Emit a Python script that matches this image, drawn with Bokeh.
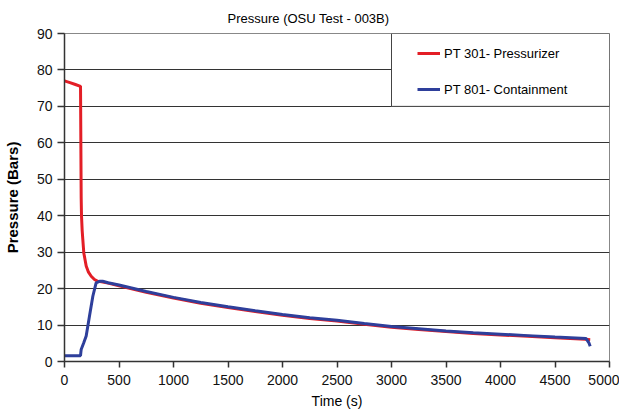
from bokeh.plotting import figure
from bokeh.models import Legend, LegendItem, BoxAnnotation, SingleIntervalTicker, Title
from bokeh.embed import file_html
from bokeh.resources import INLINE

# ---- data ----
time_pt301 = [0, 50, 100, 147, 150, 153, 156, 162, 168, 177, 199, 220, 245, 275, 306, 340,
              400, 500, 750, 1000, 1250, 1500, 1750, 2000, 2250, 2500, 2750, 3000, 3250,
              3500, 3750, 4000, 4250, 4500, 4780, 4823]
pres_pt301 = [77.0, 76.5, 76.0, 75.5, 60.0, 45.0, 40.0, 36.0, 33.5, 29.8, 26.2, 24.5, 23.4, 22.5,
              22.0, 21.9, 21.5, 20.8, 19.0, 17.4, 16.0, 14.8, 13.7, 12.7, 11.8, 11.1, 10.2, 9.4,
              8.8, 8.2, 7.7, 7.3, 6.9, 6.5, 6.1, 6.0]

time_pt801 = [0, 147, 150, 153, 175, 199, 229, 260, 290, 321, 350, 400, 500, 750, 1000, 1250,
              1500, 1750, 2000, 2250, 2500, 2750, 3000, 3250, 3500, 3750, 4000, 4250, 4500,
              4785, 4810, 4823]
pres_pt801 = [1.6, 1.6, 2.5, 3.3, 5.0, 7.0, 12.4, 17.9, 21.6, 22.0, 22.0, 21.6, 21.0, 19.2, 17.6,
              16.2, 15.0, 13.9, 12.9, 12.0, 11.3, 10.4, 9.6, 9.0, 8.4, 7.9, 7.5, 7.1, 6.7, 6.3,
              5.2, 4.2]

series_labels = ["PT 301- Pressurizer", "PT 801- Containment"]
title_text = "Pressure (OSU Test - 003B)"
x_label = "Time (s)"
y_label = "Pressure (Bars)"

FONT = "Liberation Sans"

p = figure(frame_width=545, frame_height=328, x_range=(0, 5000), y_range=(0, 90),
           output_backend="svg", toolbar_location=None,
           min_border_left=57, min_border_right=10, min_border_top=26, min_border_bottom=46)
p.title = Title(text=title_text, align="left", offset=163, text_font=FONT,
                text_font_size="13px", text_font_style="normal", text_color="#000000",
                standoff=16)
p.background_fill_color = "white"
p.border_fill_color = "white"
p.outline_line_color = "#888888"
p.outline_line_width = 1

# grid
p.xgrid.grid_line_color = None
p.ygrid.grid_line_color = "#333333"
p.ygrid.grid_line_width = 1
p.yaxis.ticker = SingleIntervalTicker(interval=10, num_minor_ticks=0)
p.xaxis.ticker = SingleIntervalTicker(interval=500, num_minor_ticks=0)

for ax in (p.xaxis[0], p.yaxis[0]):
    ax.axis_line_color = "#333333"
    ax.axis_line_width = 1.5
    ax.major_tick_line_color = "#333333"
    ax.major_tick_line_width = 1.5
    ax.major_tick_in = 0
    ax.minor_tick_line_color = None
    ax.major_label_text_font = FONT
    ax.major_label_text_font_size = "14px"
    ax.major_label_text_color = "#111111"
    ax.axis_label_text_font = FONT
    ax.axis_label_text_color = "#000000"

p.xaxis.major_tick_out = 6
p.yaxis.major_tick_out = 7
p.xaxis.major_label_standoff = 7
p.yaxis.major_label_standoff = 5
p.xaxis.axis_label = x_label
p.xaxis.axis_label_text_font_size = "14px"
p.xaxis.axis_label_text_font_style = "normal"
p.xaxis.axis_label_standoff = 5
p.yaxis.axis_label = y_label
p.yaxis.axis_label_text_font_size = "15px"
p.yaxis.axis_label_text_font_style = "bold"
p.yaxis.axis_label_standoff = 13

r1 = p.line(time_pt301, pres_pt301, line_color="#E31E26", line_width=3)
r2 = p.line(time_pt801, pres_pt801, line_color="#2E3F9B", line_width=3)

# legend box
box = BoxAnnotation(left=3000, right=5000, bottom=70, top=90, fill_color="white", fill_alpha=1.0,
                    line_color="#444444", line_width=1, line_alpha=1.0)
p.add_layout(box)

legend = Legend(items=[LegendItem(label=series_labels[0], renderers=[r1]),
                       LegendItem(label=series_labels[1], renderers=[r2])],
                location=(353, 262), orientation="vertical",
                padding=0, margin=0, spacing=16, glyph_width=23, glyph_height=20,
                label_height=20, label_standoff=4,
                label_text_font=FONT, label_text_font_size="13px", label_text_color="#000000",
                border_line_alpha=0, background_fill_alpha=0)
p.add_layout(legend)

open("out.html", "w").write(file_html(p, INLINE))
